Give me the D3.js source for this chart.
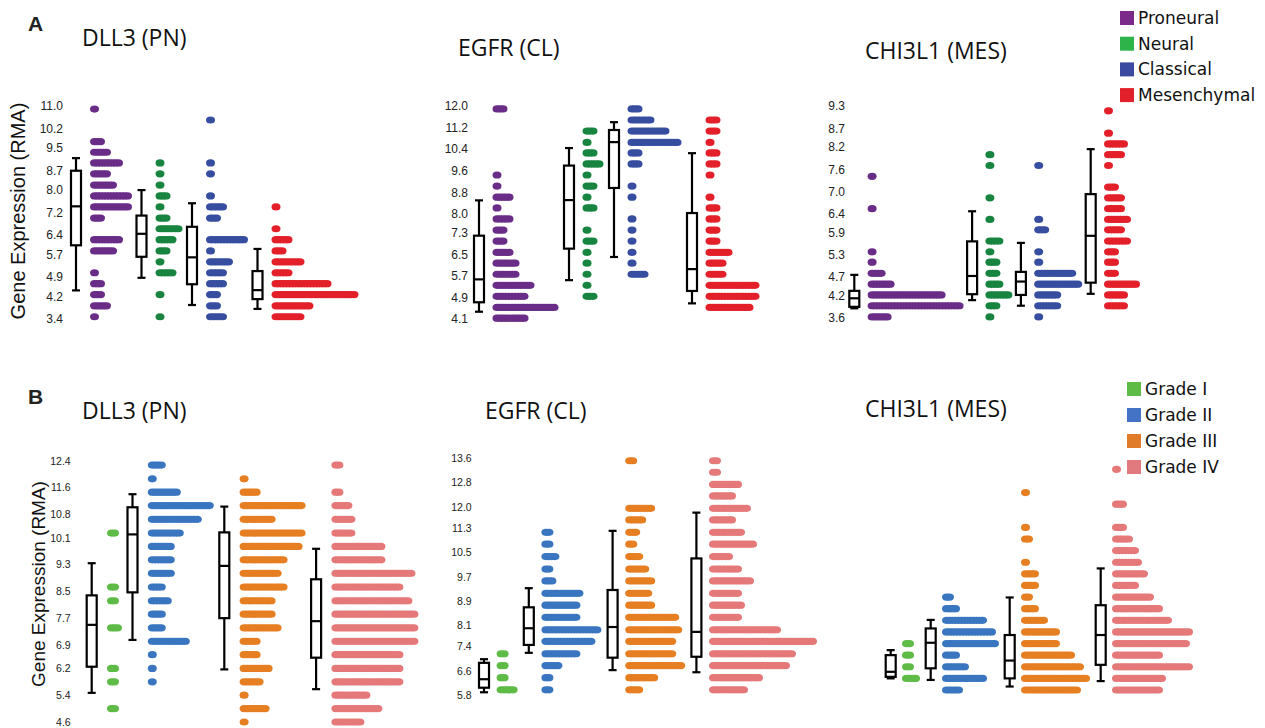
<!DOCTYPE html>
<html><head><meta charset="utf-8">
<script src="https://cdn.jsdelivr.net/npm/d3@7"></script>
<style>html,body{margin:0;padding:0;background:#fff;}svg{display:block;}</style>
</head><body>
<svg id="chart" width="1265" height="728"></svg>
<script>
// ---------- Tick labels ----------
const ticksA_DLL3 = ["3.4","4.2","4.9","5.7","6.4","7.2","8.0","8.7","9.5","10.2","11.0"];
const ticksA_EGFR = ["4.1","4.9","5.7","6.5","7.3","8.0","8.8","9.6","10.4","11.2","12.0"];
const ticksA_CHI = ["3.6","4.2","4.7","5.3","5.9","6.4","7.0","7.6","8.2","8.7","9.3"];
const ticksB_DLL3 = ["4.6","5.4","6.2","6.9","7.7","8.5","9.3","10.1","10.8","11.6","12.4"];
const ticksB_EGFR = ["5.8","6.6","7.4","8.1","8.9","9.7","10.5","11.3","12.0","12.8","13.6"];
const domainB_CHI = [4.0, 9.7];

// ---------- Categories ----------
const subtypes = ["Proneural","Neural","Classical","Mesenchymal"];
const grades = ["Grade I","Grade II","Grade III","Grade IV"];
const subtypeDotColors = ["#6a2d87","#17843f","#374ea0","#e3202a"];
const subtypeLegendColors = ["#7b2a8a","#2db34a","#3b4aa0","#e0202a"];
const gradeDotColors = ["#5dbb46","#3a76c0","#e67e22","#e57878"];
const gradeLegendColors = ["#5dbb46","#4472c4","#e07b2a","#e07a7e"];

// ---------- Dot rows: [value, number of samples] ----------
// Panel A, DLL3
const A_DLL3_PN = [[10.89,1],[9.73,3],[9.35,5],[8.97,9],[8.58,5],[8.18,7],[7.79,12],[7.40,12],[7.00,3],[6.23,9],[5.83,7],[5.05,1],[4.66,3],[4.27,3],[3.87,5],[3.48,1]];
const A_DLL3_NL = [[8.97,1],[8.58,1],[8.18,1],[7.79,3],[7.40,1],[7.00,3],[6.62,7],[6.23,5],[5.83,3],[5.44,1],[5.05,5],[4.27,1],[3.48,1]];
const A_DLL3_CL = [[10.50,1],[8.97,1],[8.58,1],[7.79,1],[7.40,5],[7.00,3],[6.23,12],[5.83,1],[5.44,7],[5.05,5],[4.66,5],[4.27,3],[3.87,3],[3.48,5]];
const A_DLL3_MES = [[7.40,1],[6.62,1],[6.23,5],[5.83,3],[5.44,9],[5.05,5],[4.66,18],[4.27,27],[3.87,12],[3.48,9]];
// Panel A, EGFR
const A_EGFR_PN = [[11.89,3],[9.44,1],[9.03,1],[8.62,5],[8.22,1],[7.81,5],[7.40,3],[6.99,3],[6.57,5],[6.17,7],[5.76,7],[5.35,12],[4.94,10],[4.53,20],[4.13,10]];
const A_EGFR_NL = [[11.07,3],[10.65,1],[10.26,3],[9.85,5],[9.44,1],[9.03,3],[8.62,1],[8.22,3],[7.40,1],[6.99,3],[6.57,1],[6.17,1],[5.76,1],[5.35,1],[4.94,3]];
const A_EGFR_CL = [[11.89,3],[11.48,7],[11.07,12],[10.65,16],[10.26,3],[9.85,3],[9.03,1],[8.62,1],[7.81,1],[7.40,1],[6.99,1],[6.57,1],[6.17,1],[5.76,5]];
const A_EGFR_MES = [[11.48,3],[11.07,3],[10.65,1],[10.26,3],[9.85,3],[9.44,1],[8.62,1],[8.22,3],[7.81,3],[7.40,3],[6.99,3],[6.57,7],[6.17,5],[5.76,5],[5.35,16],[4.94,16],[4.53,14]];
// Panel A, CHI3L1
const A_CHI_PN = [[7.41,1],[6.54,1],[5.38,1],[5.10,1],[4.80,4],[4.51,7],[4.22,24],[3.93,30],[3.63,6]];
const A_CHI_NL = [[7.99,1],[7.70,1],[6.83,1],[6.25,1],[5.67,4],[5.38,1],[5.10,3],[4.80,3],[4.51,4],[4.22,7],[3.93,3],[3.63,1]];
const A_CHI_CL = [[7.70,1],[6.25,1],[5.97,3],[5.38,1],[5.10,1],[4.80,12],[4.51,14],[4.22,7],[3.93,7],[3.63,1]];
const A_CHI_MES = [[9.17,1],[8.57,1],[8.28,6],[7.99,5],[7.70,1],[7.12,3],[6.83,5],[6.54,5],[6.25,7],[5.97,5],[5.67,7],[5.38,3],[5.10,3],[4.80,3],[4.51,10],[4.22,6],[3.93,6]];
// Panel B, DLL3
const B_DLL3_G1 = [[10.24,2],[8.63,2],[8.22,2],[7.41,3],[6.20,2],[5.80,2],[5.00,2]];
const B_DLL3_G2 = [[12.27,4],[11.86,1],[11.46,9],[11.06,20],[10.65,16],[10.24,10],[9.84,7],[9.44,7],[9.04,7],[8.63,4],[8.22,6],[7.82,4],[7.41,4],[7.01,12],[6.61,1],[6.20,1],[5.80,1]];
const B_DLL3_G3 = [[11.86,1],[11.46,5],[11.06,20],[10.65,10],[10.24,20],[9.84,19],[9.44,14],[9.04,12],[8.63,14],[8.22,10],[7.82,10],[7.41,12],[7.01,5],[6.61,5],[6.20,9],[5.80,6],[5.40,1],[5.00,8],[4.60,1]];
const B_DLL3_G4 = [[12.27,2],[11.46,2],[11.06,5],[10.65,6],[10.24,6],[9.84,16],[9.44,16],[9.04,26],[8.63,22],[8.22,25],[7.82,27],[7.41,27],[7.01,27],[6.61,22],[6.20,22],[5.80,22],[5.40,11],[5.00,15],[4.60,9]];
// Panel B, EGFR
const B_EGFR_G1 = [[7.16,2],[6.77,2],[6.37,2],[5.97,5]];
const B_EGFR_G2 = [[11.16,2],[10.77,2],[10.36,4],[9.95,2],[9.56,3],[9.15,12],[8.76,11],[8.36,11],[7.95,18],[7.57,16],[7.16,11],[6.77,5],[6.37,2],[5.97,2]];
const B_EGFR_G3 = [[13.52,2],[11.95,8],[11.57,5],[11.16,3],[10.77,2],[10.36,4],[9.95,6],[9.56,8],[9.15,7],[8.76,8],[8.36,16],[7.95,17],[7.57,15],[7.16,15],[6.77,18],[6.37,9],[5.97,4]];
const B_EGFR_G4 = [[13.52,2],[13.14,2],[12.74,9],[12.36,7],[11.95,12],[11.57,7],[11.16,10],[10.77,14],[10.36,6],[9.95,9],[9.56,13],[9.15,9],[8.76,10],[8.36,9],[7.95,22],[7.57,34],[7.16,27],[6.77,25],[6.37,16],[5.97,11]];
// Panel B, CHI3L1
const B_CHI_G1 = [[5.2,2],[4.9,2],[4.6,2],[4.3,4]];
const B_CHI_G2 = [[6.4,2],[6.1,4],[5.8,13],[5.5,16],[5.2,17],[4.9,4],[4.6,7],[4.3,13],[4.0,5]];
const B_CHI_G3 = [[9.1,1],[8.2,1],[7.9,2],[7.3,1],[7.0,4],[6.7,4],[6.4,2],[6.1,4],[5.8,7],[5.5,11],[5.2,11],[4.9,16],[4.6,19],[4.3,21],[4.0,18]];
const B_CHI_G4 = [[9.7,1],[8.8,3],[8.2,3],[7.9,5],[7.6,7],[7.3,8],[7.0,10],[6.7,7],[6.4,12],[6.1,15],[5.8,18],[5.5,25],[5.2,24],[4.9,15],[4.6,25],[4.3,16],[4.0,15]];

// ---------- Box plot stats: [min, q1, median, q3, max] ----------
const A_DLL3_box = [[4.42,6.03,7.42,8.69,9.14],[4.87,5.62,6.44,7.09,8.00],[3.90,4.64,5.60,6.69,7.53],[3.76,4.11,4.43,5.11,5.90]];
const A_EGFR_box = [[4.37,4.72,5.57,7.19,8.50],[5.54,6.71,8.51,9.79,10.44],[6.40,8.96,10.66,11.11,11.40],[4.68,5.14,5.95,8.03,10.25]];
const A_CHI_box = [[3.86,3.90,4.13,4.33,4.76],[4.08,4.24,4.73,5.66,6.47],[3.93,4.22,4.58,4.84,5.62],[4.25,4.55,5.81,6.93,8.14]];
const B_DLL3_box = [[5.47,6.25,7.50,8.38,9.34],[7.05,8.47,10.20,11.01,11.40],[6.17,7.70,9.26,10.26,11.03],[5.58,6.52,7.61,8.86,9.77]];
const B_EGFR_box = [[5.89,6.04,6.32,6.86,6.98],[7.19,7.45,8.00,8.69,9.32],[6.62,7.03,8.04,9.26,11.21],[6.55,7.06,7.88,10.30,11.81]];
const B_CHI_box = [[4.30,4.34,4.47,4.90,5.03],[4.26,4.56,5.22,5.59,5.81],[4.09,4.30,4.76,5.42,6.39],[4.23,4.65,5.42,6.19,7.14]];

// ---------- Layout ----------
const svg = d3.select("#chart");
const DOT_STEP = 3, DOT_RX = 4.5, DOT_RY = 3.6;

const panels = [
  {title:"DLL3 (PN)", tx:82, ty:46, ticks:ticksA_DLL3, tickFs:12, range:[319,106], labelX:63, firstBox:76, b2d:14, gap:9.5,
   dots:[A_DLL3_PN,A_DLL3_NL,A_DLL3_CL,A_DLL3_MES], box:A_DLL3_box, colors:subtypeDotColors},
  {title:"EGFR (CL)", tx:458, ty:56, ticks:ticksA_EGFR, tickFs:12, range:[319,106], labelX:468, firstBox:479, b2d:13.5, gap:10.5,
   dots:[A_EGFR_PN,A_EGFR_NL,A_EGFR_CL,A_EGFR_MES], box:A_EGFR_box, colors:subtypeDotColors},
  {title:"CHI3L1 (MES)", tx:865, ty:59, ticks:ticksA_CHI, tickFs:12, range:[318,106], labelX:845, firstBox:854.3, b2d:13.3, gap:8.5,
   dots:[A_CHI_PN,A_CHI_NL,A_CHI_CL,A_CHI_MES], box:A_CHI_box, colors:subtypeDotColors},
  {title:"DLL3 (PN)", tx:82, ty:419, ticks:ticksB_DLL3, tickFs:10.5, range:[722,460.7], labelX:70.7, firstBox:91.7, b2d:15.3, gap:10.5,
   dots:[B_DLL3_G1,B_DLL3_G2,B_DLL3_G3,B_DLL3_G4], box:B_DLL3_box, colors:gradeDotColors},
  {title:"EGFR (CL)", tx:485, ty:419, ticks:ticksB_EGFR, tickFs:10.5, range:[695,458.3], labelX:471.7, firstBox:484, b2d:12.6, gap:11.2,
   dots:[B_EGFR_G1,B_EGFR_G2,B_EGFR_G3,B_EGFR_G4], box:B_EGFR_box, colors:gradeDotColors},
  {title:"CHI3L1 (MES)", tx:865, ty:417, ticks:null, domain:domainB_CHI, range:[690,469.3], labelX:null, firstBox:890.7, b2d:11.3, gap:10.7,
   dots:[B_CHI_G1,B_CHI_G2,B_CHI_G3,B_CHI_G4], box:B_CHI_box, colors:gradeDotColors}
];

panels.forEach(p => {
  const dom = p.ticks ? [+p.ticks[0], +p.ticks[p.ticks.length-1]] : p.domain;
  const y = d3.scaleLinear().domain(dom).range(p.range);
  const g = svg.append("g");

  g.append("text").attr("x", p.tx).attr("y", p.ty)
    .attr("font-family","'Open Sans', sans-serif").attr("font-size", 23).attr("fill","#111")
    .text(p.title);

  if (p.ticks) {
    const ax = d3.axisLeft(y).tickValues(p.ticks.map(Number)).tickSize(0).tickPadding(0)
      .tickFormat((d,i) => p.ticks[i]);
    const ag = g.append("g").attr("transform", `translate(${p.labelX},0)`).call(ax);
    ag.select(".domain").remove();
    ag.selectAll("text").attr("font-family","'Liberation Sans', Arial, sans-serif").attr("font-size", p.tickFs).attr("fill","#222");
  }

  let bx = p.firstBox;
  p.dots.forEach((rows, gi) => {
    const st = p.box[gi];
    const col = p.colors[gi];
    const dotStart = bx + p.b2d;
    const pts = [];
    rows.forEach(([v,n]) => { for (let i=0;i<n;i++) pts.push({v, i}); });
    g.append("g").selectAll("ellipse").data(pts).join("ellipse")
      .attr("cx", d => dotStart + DOT_RX + d.i*DOT_STEP)
      .attr("cy", d => y(d.v))
      .attr("rx", DOT_RX).attr("ry", DOT_RY)
      .attr("fill", col);
    const bg = g.append("g").attr("stroke","#000").attr("stroke-width",2.2).attr("fill","none");
    const hw = 5, cw = 4;
    bg.append("line").attr("x1",bx).attr("x2",bx).attr("y1",y(st[4])).attr("y2",y(st[3]));
    bg.append("line").attr("x1",bx).attr("x2",bx).attr("y1",y(st[1])).attr("y2",y(st[0]));
    bg.append("line").attr("x1",bx-cw).attr("x2",bx+cw).attr("y1",y(st[4])).attr("y2",y(st[4]));
    bg.append("line").attr("x1",bx-cw).attr("x2",bx+cw).attr("y1",y(st[0])).attr("y2",y(st[0]));
    bg.append("rect").attr("x",bx-hw).attr("width",hw*2).attr("y",y(st[3])).attr("height",y(st[1])-y(st[3])).attr("fill","#fff");
    bg.append("line").attr("x1",bx-hw).attr("x2",bx+hw).attr("y1",y(st[2])).attr("y2",y(st[2]));
    const maxN = d3.max(rows, r => r[1]);
    bx = dotStart + 2*DOT_RX + (maxN-1)*DOT_STEP + p.gap;
  });
});

// Panel letters
svg.append("text").attr("x",28).attr("y",31).attr("font-family","'Liberation Sans', Arial, sans-serif")
  .attr("font-weight","bold").attr("font-size",21).attr("fill","#222").text("A");
svg.append("text").attr("x",28).attr("y",404).attr("font-family","'Liberation Sans', Arial, sans-serif")
  .attr("font-weight","bold").attr("font-size",21).attr("fill","#222").text("B");

// Y axis titles
[[25,211,20],[45,584,19]].forEach(([x,cy,fs]) => {
  svg.append("text").attr("transform",`translate(${x},${cy}) rotate(-90)`).attr("text-anchor","middle")
    .attr("font-family","'Liberation Sans', Arial, sans-serif").attr("font-size",fs).attr("fill","#111")
    .text("Gene Expression (RMA)");
});

// Legends
function legend(names, colors, x, y0, step) {
  const lg = svg.append("g");
  names.forEach((n,i) => {
    lg.append("rect").attr("x",x).attr("y",y0+i*step).attr("width",14).attr("height",14).attr("fill",colors[i]);
    lg.append("text").attr("x",x+18).attr("y",y0+i*step+13)
      .attr("font-family","'DejaVu Sans', Verdana, sans-serif").attr("font-size",17).attr("fill","#111").text(n);
  });
}
legend(subtypes, subtypeLegendColors, 1120, 11, 25.7);
legend(grades, gradeLegendColors, 1127, 382, 26);
</script>
</body></html>
